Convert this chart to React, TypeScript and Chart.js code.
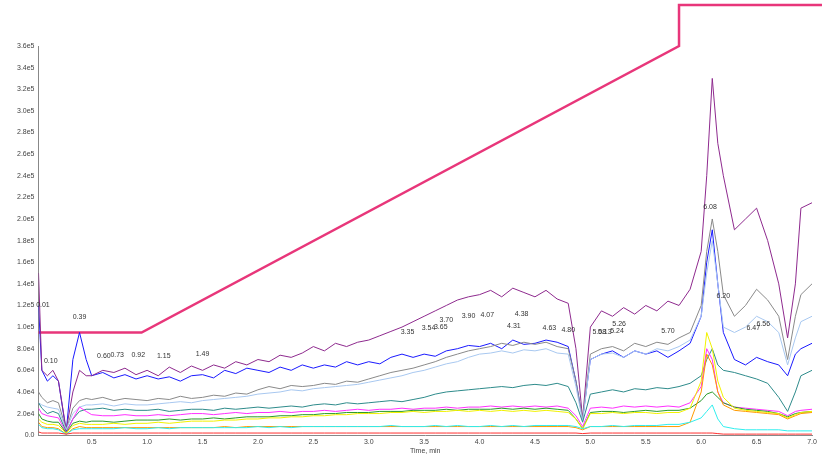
import React, { useEffect, useRef } from "react";
import { Chart, registerables } from "chart.js";
Chart.register(...registerables);

const times = [0.02,0.05,0.1,0.15,0.2,0.27,0.33,0.39,0.45,
  0.5,0.6,0.7,0.8,0.9,1.0,1.1,1.2,1.3,1.4,1.5,1.6,1.7,1.8,1.9,2.0,2.1,2.2,2.3,2.4,2.5,2.6,2.7,2.8,2.9,
  3.0,3.1,3.2,3.3,3.4,3.5,3.6,3.7,3.8,3.9,4.0,4.1,4.2,4.3,4.4,4.5,4.6,4.7,4.8,
  4.87,4.93,
  5.0,5.1,5.2,5.3,5.4,5.5,5.6,5.7,5.8,5.9,6.0,
  6.05,6.1,6.15,
  6.2,6.3,6.4,6.5,6.6,6.7,
  6.78,6.85,
  6.9,7.0];

// values in units of 1e4 counts
const purple = [15,6,5.5,6,5,0.5,4,6,5.5,
  5.5,6,5.8,6.2,5.6, 6,5.5,6.3,5.8,6.4, 6,6.5,6.2,6.8,6.5, 7,6.8,7.4,7.2,7.6, 8.2,7.8,8.5,8.2,8.6,
  8.8,9.2,9.6,10,10.5, 11,11.5,12,12.5,12.8, 13,13.4,12.8,13.6,13.2, 12.8,13.4,12.6,12.2,
  8,1.5,
  10,11.5,11,11.8,11.2,12,11.5,12.4,12,13.5,17,
  24,33,27,
  24,19,20,21,18,14,
  9,14,
  21,21.5];
const gray = [4,3.5,3,3.2,3,0.5,2.5,3.2,3.4,
  3.3,3.5,3.2,3.4,3.3, 3.2,3.4,3.3,3.6,3.4, 3.5,3.7,3.6,3.9,3.8, 4.2,4.5,4.3,4.6,4.5, 4.6,4.8,4.7,5.0,4.9,
  5.2,5.5,5.8,6.0,6.2, 6.5,6.8,7.2,7.5,7.8, 8.0,8.2,8.5,8.3,8.6, 8.4,8.6,8.2,8.0,
  5,1.5,
  7.5,8,8.2,7.8,8.5,8.2,8.6,8.4,9,9.5,12,
  17,20,17,
  13,11,12,13.5,12.5,11,
  7,11,
  13,14];
const lightBlue = [3,2.8,2.6,2.5,2.4,0.5,2,2.6,2.8,
  2.8,2.9,2.7,2.9,2.8, 2.8,2.9,3.0,3.1,3.0, 3.2,3.3,3.4,3.5,3.6, 3.8,3.9,4.0,4.2,4.1, 4.3,4.4,4.5,4.6,4.7,
  4.9,5.1,5.3,5.5,5.8, 6.0,6.3,6.6,6.8,7.2, 7.5,7.6,7.8,7.6,7.9, 7.8,8.0,7.6,7.5,
  4.5,1.3,
  7,7.5,7.6,7.2,7.8,7.5,8,7.8,8.2,8.8,11,
  15,18,14,
  10,9.5,10,11,10.5,9.5,
  6.5,9,
  10.5,11];
const blue = [12,6,5,5.5,5,0.3,7,9.5,7,
  5.5,5.8,5.3,5.6,5.2, 5.5,5.2,5.4,5.0,5.5, 5.6,5.3,6.0,5.7,6.2, 6.0,5.8,6.3,6.0,6.5, 6.2,6.5,6.3,6.8,6.5,
  6.8,6.6,7.2,7.5,7.2, 7.5,7.3,7.8,8.0,8.3, 8.2,8.5,8.0,8.8,8.4, 8.5,8.8,8.6,8.2,
  5,1.5,
  7,7.5,7.8,7.2,7.8,7.5,7.8,7.2,7.8,8.5,11,
  16,19,14,
  9.5,7,6.5,7.2,6.8,6.5,
  5.5,7.5,
  8,8.5];
const teal = [3,2.5,2,2.2,2,0.3,1.5,2.2,2.4,
  2.4,2.5,2.3,2.4,2.3, 2.3,2.4,2.2,2.3,2.4, 2.4,2.3,2.5,2.4,2.5, 2.6,2.5,2.6,2.7,2.6, 2.8,2.9,2.8,3.0,2.9,
  3.0,3.1,3.2,3.1,3.3, 3.5,3.8,4.0,4.1,4.2, 4.3,4.4,4.5,4.4,4.6, 4.7,4.6,4.8,4.5,
  3,1.2,
  3.8,4.0,4.2,4.0,4.3,4.2,4.4,4.3,4.5,4.8,5.5,
  7,8,6.5,
  6,5.8,5.5,5.2,4.8,3.5,
  2.2,4,
  5.5,6];
const magenta = [2.5,2,1.8,1.7,1.6,0.2,1.5,2.6,2.2,
  1.9,1.8,1.8,1.9,1.8, 1.8,1.9,1.8,1.9,2.0, 2.0,1.9,2.0,2.1,2.0, 2.1,2.1,2.2,2.1,2.2, 2.2,2.3,2.2,2.3,2.4,
  2.3,2.4,2.4,2.5,2.4, 2.5,2.5,2.6,2.5,2.6, 2.6,2.7,2.6,2.7,2.6, 2.7,2.6,2.7,2.5,
  1.8,0.8,
  2.5,2.6,2.5,2.7,2.6,2.7,2.6,2.7,2.6,3.0,4.5,
  8,7,4,
  3,2.6,2.5,2.4,2.3,2.2,
  1.8,2.2,
  2.3,2.4];
const yellow = [1.5,1.2,1,1,0.9,0.2,0.9,1.1,1.0,
  1.0,1.0,1.1,1.0,1.1, 1.1,1.2,1.1,1.2,1.3, 1.3,1.3,1.4,1.4,1.5, 1.5,1.6,1.6,1.7,1.7, 1.8,1.8,1.9,1.9,2.0,
  2.0,2.0,2.1,2.1,2.2, 2.1,2.2,2.2,2.3,2.2, 2.3,2.2,2.3,2.2,2.3, 2.2,2.3,2.2,2.1,
  1.5,0.6,
  2.0,2.0,2.1,2.0,2.1,2.1,2.0,2.1,2.1,2.5,5,
  9.5,8,5,
  3.5,2.5,2.3,2.2,2.1,2.0,
  1.6,1.9,
  2.1,2.2];
const green = [2,1.5,1.3,1.2,1.2,0.2,1.1,1.3,1.2,
  1.3,1.3,1.2,1.3,1.4, 1.4,1.4,1.5,1.4,1.5, 1.5,1.6,1.5,1.6,1.7, 1.7,1.7,1.8,1.8,1.9, 1.9,2.0,2.0,2.1,2.1,
  2.1,2.2,2.2,2.2,2.3, 2.3,2.3,2.4,2.3,2.4, 2.4,2.4,2.5,2.4,2.5, 2.4,2.5,2.4,2.3,
  1.5,0.6,
  2.1,2.2,2.2,2.1,2.2,2.3,2.2,2.3,2.3,2.5,3.2,
  3.8,4,3.5,
  3,2.6,2.4,2.3,2.2,2.0,
  1.7,2,
  2.1,2.2];
const orange = [1.2,0.8,0.7,0.7,0.6,0.1,0.6,0.8,0.7,
  0.7,0.7,0.7,0.7,0.7, 0.7,0.7,0.7,0.7,0.7, 0.7,0.7,0.8,0.7,0.8, 0.8,0.8,0.8,0.8,0.8, 0.8,0.8,0.8,0.8,0.8,
  0.8,0.8,0.8,0.8,0.8, 0.8,0.8,0.8,0.8,0.8, 0.8,0.8,0.8,0.8,0.8, 0.8,0.8,0.8,0.8,
  0.7,0.5,
  0.8,0.8,0.8,0.8,0.8,0.8,0.8,0.8,0.8,1.2,4,
  7.5,6.5,4,
  2.8,2.3,2.2,2.1,2.0,1.9,
  1.5,1.8,
  2.0,2.1];
const cyan = [1,0.7,0.6,0.6,0.5,0.1,0.5,0.6,0.6,
  0.6,0.6,0.6,0.7,0.6, 0.6,0.7,0.6,0.7,0.7, 0.7,0.7,0.7,0.7,0.7, 0.8,0.7,0.8,0.7,0.8, 0.8,0.8,0.8,0.8,0.8,
  0.8,0.8,0.9,0.8,0.8, 0.8,0.9,0.8,0.9,0.8, 0.8,0.9,0.8,0.9,0.8, 0.9,0.9,0.9,0.9,
  0.8,0.6,
  0.8,0.8,0.9,0.8,0.9,0.9,0.9,1.0,1.0,1.2,1.6,
  2.2,2.8,1.5,
  0.8,0.6,0.5,0.5,0.5,0.5,
  0.4,0.4,
  0.4,0.4];
const red = [0.3,0.2,0.2,0.2,0.2,0.1,0.2,0.2,0.2,
  0.2,0.2,0.2,0.2,0.2, 0.2,0.2,0.2,0.2,0.2, 0.2,0.2,0.2,0.2,0.2, 0.2,0.2,0.2,0.2,0.2, 0.2,0.2,0.2,0.2,0.2,
  0.2,0.2,0.2,0.2,0.2, 0.2,0.2,0.2,0.2,0.2, 0.2,0.2,0.2,0.2,0.2, 0.2,0.2,0.2,0.2,
  0.2,0.15,
  0.2,0.2,0.2,0.2,0.2,0.2,0.2,0.2,0.2,0.2,0.2,
  0.2,0.2,0.15,
  0.1,0.1,0.1,0.1,0.1,0.1,
  0.1,0.1,
  0.1,0.1];

// gradient profile overlay (same value units)
const gradientTimes = [0.02, 0.95, 5.8, 5.8, 7.09];
const gradientValues = [9.5, 9.5, 36, 39.8, 39.8];

// peak labels: time, value (1e4), text
const peakTimes = [0.06,0.39,0.13,0.61,0.73,0.92,1.15,1.5,3.35,3.54,3.65,3.7,3.9,4.07,4.31,4.38,4.63,4.8,5.08,5.13,5.26,5.24,5.7,6.08,6.2,6.47,6.56];
const peakValues = [11.7,10.6,6.5,7.0,7.1,7.1,7.0,7.2,9.2,9.6,9.7,10.3,10.7,10.8,9.8,10.9,9.6,9.4,9.2,9.2,10.0,9.3,9.3,20.8,12.5,9.6,10.0];
const peakTexts = ["0.01","0.39","0.10","0.60","0.73","0.92","1.15","1.49","3.35","3.54","3.65","3.70","3.90","4.07","4.31","4.38","4.63","4.80","5.08","5.13","5.26","5.24","5.70","6.08","6.20","6.47","6.56"];

const xTicks = [0.5,1.0,1.5,2.0,2.5,3.0,3.5,4.0,4.5,5.0,5.5,6.0,6.5,7.0];

const series: [number[], string, number][] = [
  [red, "#ff3030", 1],
  [cyan, "#30eeee", 1],
  [orange, "#ff9a00", 1],
  [yellow, "#f2f200", 1],
  [green, "#2a9a2a", 1],
  [magenta, "#ff30ff", 1],
  [teal, "#2e8b8b", 1],
  [lightBlue, "#a8c8f0", 1],
  [gray, "#8a8a8a", 1],
  [purple, "#8e2a8e", 1],
  [blue, "#1a1aff", 1],
];

export default function App() {
  const ref = useRef<HTMLCanvasElement>(null);
  useEffect(() => {
    const labelPlugin = {
      id: "peakLabels",
      afterDatasetsDraw(chart: any) {
        const { ctx, scales } = chart;
        ctx.save();
        ctx.font = "7px Arial, 'Liberation Sans'";
        ctx.fillStyle = "#333";
        ctx.textAlign = "center";
        ctx.textBaseline = "bottom";
        peakTimes.forEach((t, i) => {
          ctx.fillText(peakTexts[i], scales.x.getPixelForValue(t), scales.y.getPixelForValue(peakValues[i] * 1e4));
        });
        ctx.restore();
      },
    };
    const datasets: any[] = series.map(([vals, color, w]) => ({
      data: times.map((t, i) => ({ x: t, y: vals[i] * 1e4 })),
      borderColor: color,
      borderWidth: w,
      pointRadius: 0,
      tension: 0,
    }));
    datasets.push({
      data: gradientTimes.map((t, i) => ({ x: t, y: gradientValues[i] * 1e4 })),
      borderColor: "#e8367a",
      borderWidth: 2.5,
      pointRadius: 0,
      clip: false,
    });
    const chart = new Chart(ref.current!, {
      type: "line",
      data: { datasets },
      plugins: [labelPlugin],
      options: {
        animation: false,
        responsive: false,
        plugins: { legend: { display: false }, tooltip: { enabled: false } },
        layout: { padding: { top: 46, right: 15, left: 16, bottom: 0 } },
        scales: {
          x: {
            type: "linear",
            min: 0.02,
            max: 7.0,
            afterBuildTicks: (s: any) => { s.ticks = xTicks.map((v) => ({ value: v })); },
            grid: { display: false, drawTicks: true, tickLength: 3, color: "#888" },
            border: { color: "#888" },
            ticks: { font: { size: 7, family: "Arial, 'Liberation Sans'" }, color: "#444", padding: 0, maxRotation: 0, callback: (v: any) => Number(v).toFixed(1) },
            title: { display: true, text: "Time, min", font: { size: 7, family: "Arial, 'Liberation Sans'" }, color: "#444", padding: 0 },
          },
          y: {
            min: 0,
            max: 360000,
            grid: { display: false, tickLength: 3, color: "#888" },
            border: { color: "#888" },
            ticks: {
              stepSize: 20000,
              font: { size: 7, family: "Arial, 'Liberation Sans'" },
              color: "#444",
              padding: 1,
              callback: (v: any) => (v === 0 ? "0.0" : v < 100000 ? (v / 1e4).toFixed(1) + "e4" : (v / 1e5).toFixed(1) + "e5"),
            },
          },
        },
      },
    });
    return () => chart.destroy();
  }, []);
  return (
    <div style={{ position: "fixed", left: 0, top: 0, width: 827, height: 455, background: "#fff" }}>
      <canvas ref={ref} width={827} height={455} />
    </div>
  );
}
